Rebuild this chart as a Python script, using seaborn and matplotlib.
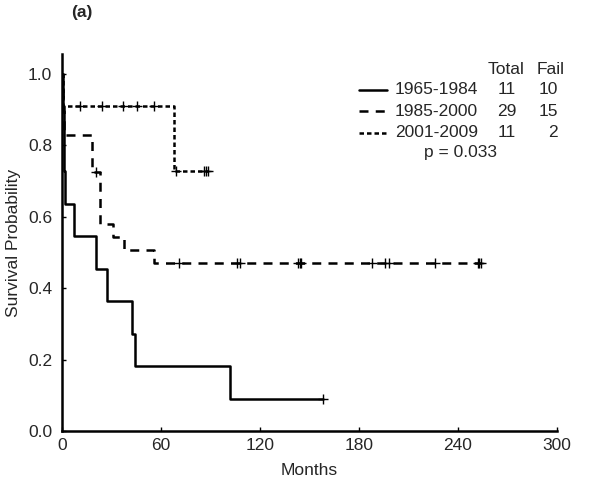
import numpy as np
import pandas as pd
import matplotlib
matplotlib.use("Agg")
import matplotlib.pyplot as plt
import seaborn as sns

# groups (Kaplan-Meier)
groups = ["1965-1984", "1985-2000", "2001-2009"]
n_total = [11, 29, 11]
n_fail = [10, 15, 2]
p_value = "p = 0.033"

# event (failure) times and censored times in months
deaths_1965 = [0.5, 1, 1.5, 2, 7.5, 20.5, 27.5, 42.5, 44, 102]
censor_1965 = [158]
deaths_1985 = [0.3, 0.6, 0.9, 1.2, 1.5, 18, 18, 18, 23, 23, 23, 23, 31, 37.5, 56]
censor_1985 = [20.5, 71, 106, 108, 143, 144, 145, 188, 196, 198, 226, 252, 253, 254]
deaths_2001 = [0.5, 68]
censor_2001 = [11, 24, 37, 45.5, 56, 69, 86, 87, 88.5]

deaths = [deaths_1965, deaths_1985, deaths_2001]
censors = [censor_1965, censor_1985, censor_2001]

x_ticks = [0, 60, 120, 180, 240, 300]
y_ticks = [0.0, 0.2, 0.4, 0.6, 0.8, 1.0]


def km(d, c, n):
    times = sorted(set(d) | set(c))
    s = 1.0
    at_risk = n
    steps = [(0.0, 1.0)]
    marks = []
    for t in times:
        nd = d.count(t)
        nc = c.count(t)
        if nd:
            s *= 1 - nd / at_risk
            steps.append((t, s))
        if nc:
            marks.append((t, s))
        at_risk -= nd + nc
    steps.append((max(times), s))
    return steps, marks


step_rows = []
mark_rows = []
for g, d, c, n in zip(groups, deaths, censors, n_total):
    steps, marks = km(d, c, n)
    for t, s in steps:
        step_rows.append({"Months": t, "surv": s, "group": g})
    for t, s in marks:
        mark_rows.append({"Months": t, "surv": s, "group": g})
steps_df = pd.DataFrame(step_rows)
marks_df = pd.DataFrame(mark_rows)

sns.set_style("ticks")
plt.rcParams["font.family"] = ["Liberation Sans", "DejaVu Sans"]
fs = 12.5
lw = 1.8

fig = plt.figure(figsize=(6.01, 4.88), dpi=100)
ax = fig.add_axes([62 / 601, 1 - 431 / 488, 495 / 601, 377 / 488])

dash_map = {"1965-1984": "", "1985-2000": (3.6, 2.9), "2001-2009": (1.8, 1.2)}
sns.lineplot(data=steps_df, x="Months", y="surv", style="group", dashes=dash_map,
             color="black", linewidth=lw, drawstyle="steps-post",
             estimator=None, sort=False, legend=False, ax=ax)
sns.scatterplot(data=marks_df, x="Months", y="surv", marker="+", color="black",
                s=50, linewidth=1.0, legend=False, ax=ax, zorder=3)

ax.set_xlim(0, 300)
ax.set_ylim(0, 1.055)
ax.set_xticks(x_ticks)
ax.set_yticks(y_ticks)
ax.set_yticklabels([f"{v:.1f}" for v in y_ticks])
ax.tick_params(direction="in", length=3, width=1, labelsize=fs, color="black")
ax.tick_params(axis="y", pad=7)
ax.tick_params(axis="x", pad=5)
for sp in ["top", "right"]:
    ax.spines[sp].set_visible(False)
for sp in ["left", "bottom"]:
    ax.spines[sp].set_linewidth(lw)
    ax.spines[sp].set_color("black")
ax.set_xlabel("Months", fontsize=fs, labelpad=7)
ax.set_ylabel("Survival Probability", fontsize=fs, labelpad=5)

# legend block
fig.text(525 / 601, 1 - 69 / 488, "Total", fontsize=fs, ha="right", va="center")
fig.text(565 / 601, 1 - 69 / 488, "Fail", fontsize=fs, ha="right", va="center")
row_y = [90, 111, 132.5]
for g, tot, fl, yy in zip(groups, n_total, n_fail, row_y):
    yf = 1 - yy / 488
    ln = plt.Line2D([359 / 601, 387 / 601], [yf, yf], transform=fig.transFigure,
                    color="black", linewidth=lw)
    if dash_map[g]:
        ln.set_dashes(dash_map[g])
    fig.add_artist(ln)
    fig.text(395 / 601, yf, g, fontsize=fs, ha="left", va="center")
    fig.text(516 / 601, yf, str(tot), fontsize=fs, ha="right", va="center")
    fig.text(558 / 601, yf, str(fl), fontsize=fs, ha="right", va="center")
fig.text(460 / 601, 1 - 153 / 488, p_value, fontsize=fs, ha="center", va="center")

fig.text(82 / 601, 1 - 13 / 488, "(a)", fontsize=12.5, fontweight="bold",
         ha="center", va="center")

fig.savefig("out.png", dpi=100)
